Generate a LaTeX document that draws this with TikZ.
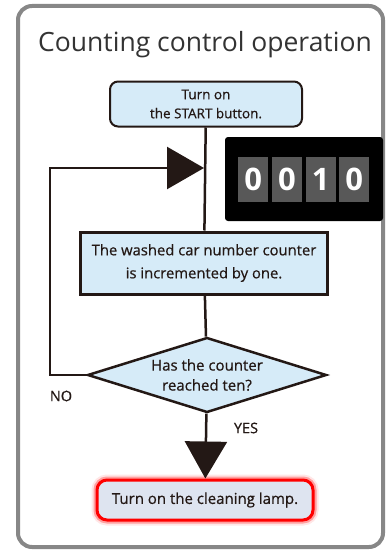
\documentclass[tikz,border=0pt]{standalone}
\usepackage{fontspec}
\setmainfont{Open Sans}
\newfontfamily\boxfont{Open Sans}[FakeBold=0.6]
\usetikzlibrary{shapes.geometric, arrows.meta, positioning}

\definecolor{boxblue}{RGB}{214,235,248}
\definecolor{ink}{RGB}{35,24,21}
\definecolor{framegray}{RGB}{135,135,135}
\definecolor{digitgray}{RGB}{88,88,88}
\definecolor{lampfill}{RGB}{222,228,240}

\begin{document}
\begin{tikzpicture}[
    x=1pt, y=-1pt,
    every node/.style={font=\boxfont\fontsize{14.8}{23}\selectfont, align=center, text=ink},
    box/.style={rectangle, draw=ink, fill=boxblue, inner sep=0pt},
    startbox/.style={box, rounded corners=8pt, line width=2pt, minimum width=192pt, minimum height=45pt, font=\boxfont\fontsize{13.5}{19}\selectfont},
    countbox/.style={box, line width=3pt, minimum width=247pt, minimum height=62pt},
    decision/.style={diamond, aspect=3.2, draw=ink, line width=2.5pt, fill=boxblue, minimum width=239pt, minimum height=75pt, inner sep=0pt, font=\boxfont\fontsize{15}{20}\selectfont},
    lampbox/.style={rectangle, rounded corners=10pt, draw=red, line width=3pt, fill=lampfill, minimum width=216pt, minimum height=40pt, inner sep=0pt, font=\boxfont\fontsize{15}{18}\selectfont,
        preaction={draw=red!50, line width=11pt, opacity=0.2},
        preaction={draw=red, line width=7pt, opacity=0.3}},
    display/.style={rectangle, rounded corners=3pt, fill=black, minimum width=158pt, minimum height=84pt},
    digit/.style={rectangle, fill=digitgray, minimum width=30pt, minimum height=45pt, inner sep=0pt, text=white, font=\fontsize{31}{31}\selectfont\bfseries},
    answer/.style={font=\boxfont\fontsize{14.5}{16}\selectfont},
    arrow/.style={draw=ink, line width=2.5pt},
    bigtip/.style={-{Triangle[length=37pt, width=42pt]}}
]
\useasboundingbox (0,0) rectangle (386,551);

% FRAME AND TITLE
\draw[framegray, line width=4pt, rounded corners=14pt] (18,6) rectangle (383,547);
\node[font=\fontsize{26.5}{30}\selectfont, text=black!80] (title) at (205,45) {Counting control operation};

% NODES
\node[startbox] (start) at (206,104) {Turn on\\the START button.};
\node[countbox] (count) at (204,263) {The washed car number counter\\is incremented by one.};
\node[decision] (check) at (207,375) {Has the counter\\reached ten?};
\node[lampbox] (lamp) at (205,500) {Turn on the cleaning lamp.};

% COUNTER DISPLAY
\node[display] (display) at (304,179) {};
\foreach \d/\v in {1/0, 2/0, 3/1, 4/0}
    \node[digit] (d\d) at (219.5+33.7*\d,179) {\v};

% ARROWS
\coordinate (nobend) at (50,168);
\coordinate (join) at (204,168);
\draw[arrow] (start) -- (count);
\draw[arrow] (count) -- (check);
\draw[arrow, bigtip] (check.west) -| (nobend) -- (join);
\draw[arrow, bigtip] (check) -- (lamp);
\node[answer] (no) at (61,396) {NO};
\node[answer] (yes) at (246,428) {YES};

\end{tikzpicture}
\end{document}
